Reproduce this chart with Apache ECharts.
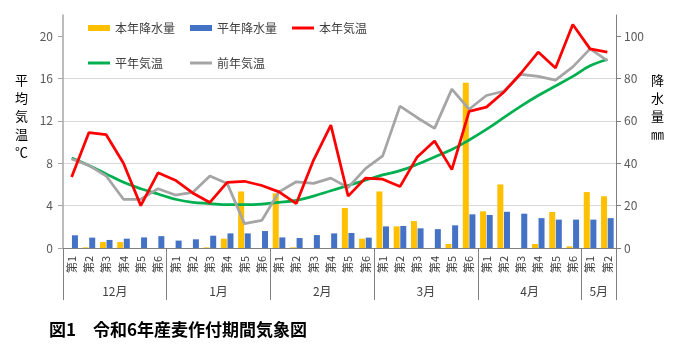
<!DOCTYPE html>
<html lang="ja">
<head>
    <meta charset="UTF-8">
    <title>令和6年産麦作付期間気象図</title>
    <script src="https://cdn.jsdelivr.net/npm/echarts@6/dist/echarts.min.js"></script>
    <style>
        html, body { margin: 0; padding: 0; background: #fff; }
        #chart { width: 678px; height: 354px; }
    </style>
</head>
<body>
<div id="chart"></div>
<script>
    // 月と旬（半旬）の構成
    const months = ['12月', '1月', '2月', '3月', '4月', '5月'];
    const weeksPerMonth = [6, 6, 6, 6, 6, 2];

    // 降水量 (mm)
    const precipThisYear = [0, 0.3, 2.8, 2.8, 0, 0, 0, 0, 0.3, 4.4, 26.7, 0, 25.8, 0.3, 0, 0, 18.9, 4.4,
        26.7, 10.2, 12.7, 0, 1.9, 78, 17.3, 30.0, 0, 1.9, 17.0, 0.8, 26.4, 24.4];
    const precipNormal = [6.0, 4.9, 3.8, 4.4, 5.0, 5.6, 3.5, 4.1, 5.8, 6.9, 6.9, 8.0, 5.0, 4.7, 6.1, 6.9, 7.1, 4.9,
        10.2, 10.4, 9.3, 8.9, 10.7, 15.9, 15.6, 17.1, 16.2, 14.1, 13.4, 13.4, 13.4, 14.1];

    // 平均気温 (℃)
    const tempThisYear = [6.7, 10.9, 10.7, 8.0, 4.0, 7.1, 6.4, 5.2, 4.3, 6.2, 6.3, 5.9, 5.3, 4.2, 8.3, 11.6, 4.9, 6.6,
        6.5, 5.8, 8.6, 10.1, 7.4, 12.9, 13.3, 14.7, 16.5, 18.5, 17.0, 21.1, 18.8, 18.5];
    const tempNormal = [8.5, 7.8, 7.0, 6.2, 5.6, 5.1, 4.6, 4.3, 4.2, 4.1, 4.1, 4.15, 4.3, 4.5, 4.9, 5.4, 5.9, 6.4,
        6.9, 7.3, 7.9, 8.6, 9.3, 10.2, 11.2, 12.3, 13.4, 14.4, 15.3, 16.2, 17.2, 17.8];
    const tempLastYear = [8.4, 7.8, 6.8, 4.6, 4.6, 5.6, 5.0, 5.25, 6.8, 6.1, 2.3, 2.6, 5.3, 6.25, 6.1, 6.6, 5.7, 7.5,
        8.7, 13.4, 12.3, 11.3, 15.0, 13.1, 14.4, 14.8, 16.4, 16.2, 15.85, 17.1, 18.8, 17.7];

    const tempTicks = [0, 4, 8, 12, 16, 20];
    const precipTicks = [0, 20, 40, 60, 80, 100];

    // カテゴリ（第1〜第6）と月の対応
    const weekLabels = [];
    const monthOfIndex = [];
    const monthStart = [];
    const monthLabelIndex = [];
    months.forEach((m, k) => {
        monthStart.push(weekLabels.length);
        monthLabelIndex.push(weekLabels.length + Math.floor((weeksPerMonth[k] - 1) / 2));
        for (let w = 1; w <= weeksPerMonth[k]; w++) {
            weekLabels.push('第' + w);
            monthOfIndex.push(m);
        }
    });
    const bandWidth = (678 - 63 - 62) / weekLabels.length;
    // 偶数個の月は中央が境目になるので半分ずらす
    const halfShift = weeksPerMonth.map(n => n % 2 === 0 ? bandWidth : 0);

    const font = '"Noto Sans CJK JP", "Noto Sans", sans-serif';
    const legendText = { fontSize: 12, color: '#404040', fontFamily: font };
    const chart = echarts.init(document.getElementById('chart'));

    chart.setOption({
        animation: false,
        textStyle: { fontFamily: font },
        grid: { left: 63, right: 62, top: 15, bottom: 106 },
        legend: [
            {
                left: 88, top: 22, padding: 0,
                itemWidth: 22, itemHeight: 6, itemGap: 15, icon: 'rect',
                textStyle: legendText,
                data: ['本年降水量', '平年降水量']
            },
            {
                left: 292, top: 22, padding: 0,
                itemWidth: 22, itemHeight: 3, icon: 'rect',
                textStyle: legendText,
                data: ['本年気温']
            },
            {
                left: 88, top: 57, padding: 0,
                itemWidth: 22, itemHeight: 3, itemGap: 27, icon: 'rect',
                textStyle: legendText,
                data: ['平年気温', '前年気温']
            }
        ],
        xAxis: [
            {
                type: 'category',
                data: weekLabels,
                boundaryGap: true,
                axisLine: { lineStyle: { color: '#7f7f7f', width: 1 } },
                axisTick: {
                    show: true,
                    length: 52,
                    interval: (i) => monthStart.includes(i),
                    lineStyle: { color: '#7f7f7f' }
                },
                axisLabel: {
                    interval: 0, rotate: 90, margin: 8,
                    fontSize: 11, color: '#404040', fontFamily: font
                }
            },
            {
                type: 'category',
                data: monthOfIndex,
                position: 'bottom',
                boundaryGap: true,
                axisLine: { show: false },
                axisTick: { show: false },
                axisLabel: {
                    margin: 37,
                    fontSize: 12, color: '#404040', fontFamily: font,
                    interval: (i) => monthLabelIndex.includes(i),
                    formatter: (v, i) => {
                        const k = monthLabelIndex.indexOf(i);
                        return '{m' + (halfShift[k] ? 's' : 'c') + '|' + v + '}';
                    },
                    rich: {
                        ms: { fontSize: 12, color: '#404040', fontFamily: font, padding: [0, 0, 0, bandWidth] },
                        mc: { fontSize: 12, color: '#404040', fontFamily: font }
                    }
                }
            }
        ],
        yAxis: [
            {
                type: 'value', position: 'left',
                min: 0, max: 22, interval: 4,
                axisLine: { show: true, lineStyle: { color: '#a6a6a6', width: 1.5 } },
                axisTick: { show: true, length: 5, customValues: tempTicks, lineStyle: { color: '#a6a6a6' } },
                axisLabel: { customValues: tempTicks, margin: 10, fontSize: 12, color: '#595959', fontFamily: font },
                splitLine: { show: true, showMaxLine: false, lineStyle: { color: '#d9d9d9', width: 1 } }
            },
            {
                type: 'value', position: 'right',
                min: 0, max: 110, interval: 20,
                axisLine: { show: true, lineStyle: { color: '#7f7f7f', width: 1 } },
                axisTick: { show: true, length: 5, customValues: precipTicks, lineStyle: { color: '#7f7f7f' } },
                axisLabel: { customValues: precipTicks, margin: 8, fontSize: 12, color: '#595959', fontFamily: font },
                splitLine: { show: false }
            }
        ],
        series: [
            {
                name: '本年降水量', type: 'bar', xAxisIndex: 0, yAxisIndex: 1,
                data: precipThisYear, barWidth: 6, barGap: '10%',
                itemStyle: { color: '#ffc000' }
            },
            {
                name: '平年降水量', type: 'bar', xAxisIndex: 0, yAxisIndex: 1,
                data: precipNormal, barWidth: 6, barGap: '10%',
                itemStyle: { color: '#4472c4' }
            },
            {
                name: '本年気温', type: 'line', yAxisIndex: 0, z: 5,
                data: tempThisYear, symbol: 'none',
                lineStyle: { color: '#ff0000', width: 2.75 },
                itemStyle: { color: '#ff0000' }
            },
            {
                name: '平年気温', type: 'line', yAxisIndex: 0, z: 3,
                data: tempNormal, symbol: 'none', smooth: 0.4,
                lineStyle: { color: '#00b050', width: 2.75 },
                itemStyle: { color: '#00b050' }
            },
            {
                name: '前年気温', type: 'line', yAxisIndex: 0, z: 4,
                data: tempLastYear, symbol: 'none',
                lineStyle: { color: '#a5a5a5', width: 2.75 },
                itemStyle: { color: '#a5a5a5' }
            }
        ],
        graphic: [
            {
                type: 'text', left: 15, top: 71,
                style: { text: '平\n均\n気\n温\n℃', lineHeight: 18, fill: '#000', align: 'center', font: '13px ' + font }
            },
            {
                type: 'text', left: 651, top: 71,
                style: { text: '降\n水\n量\n㎜', lineHeight: 18, fill: '#000', align: 'center', font: '13px ' + font }
            },
            {
                type: 'text', left: 49, top: 321,
                style: { text: '図1　令和6年産麦作付期間気象図', fill: '#000', font: 'bold 17px ' + font }
            }
        ]
    });
</script>
</body>
</html>
